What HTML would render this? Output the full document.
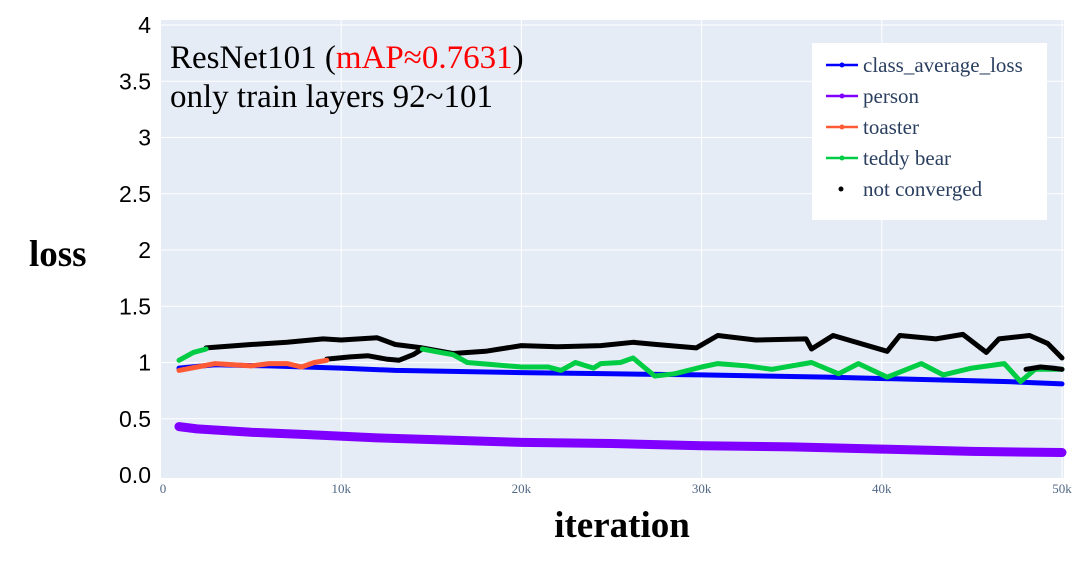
<!DOCTYPE html>
<html><head><meta charset="utf-8">
<style>
html,body{margin:0;padding:0;background:#fff;}
svg{display:block;}
</style></head>
<body>
<svg id="chart" width="1078" height="570" viewBox="0 0 1078 570" xmlns="http://www.w3.org/2000/svg">
<rect x="161" y="20" width="903" height="458" fill="#e5ecf6"/>
<g id="grid"></g>
<g id="yticks" font-family="'Liberation Sans',sans-serif" font-size="23" fill="#000" text-anchor="end"></g>
<g id="xticks" font-family="'Liberation Serif',serif" font-size="13" fill="#506784" text-anchor="middle"></g>
<g id="series" fill="none" stroke-linejoin="round" stroke-linecap="round"></g>
<text x="170" y="68" font-family="'Liberation Serif',serif" font-size="33" fill="#000">ResNet101 (<tspan fill="#ff0000">mAP≈0.7631</tspan>)</text>
<text x="170" y="107" font-family="'Liberation Serif',serif" font-size="33" fill="#000">only train layers 92~101</text>
<text x="29" y="266" font-family="'Liberation Serif',serif" font-size="37" font-weight="bold" fill="#000">loss</text>
<text x="622" y="537" text-anchor="middle" font-family="'Liberation Serif',serif" font-size="37" font-weight="bold" fill="#000">iteration</text>
<g>
<rect x="812" y="43" width="235" height="177" fill="#fff"/>
<g id="legend" font-family="'Liberation Serif',serif" font-size="21" fill="#2a3f5f"></g>
</g>
</svg>
<script>
const xTicks=[0,10000,20000,30000,40000,50000];
const xTickLabels=["0","10k","20k","30k","40k","50k"];
const yTicks=[0,0.5,1,1.5,2,2.5,3,3.5,4];
const yTickLabels=["0.0","0.5","1","1.5","2","2.5","3","3.5","4"];
const avgX=[1000,3000,6000,10000,13000,20000,25000,30000,37000,42000,47000,50000];
const avgY=[0.95,0.98,0.97,0.95,0.93,0.91,0.90,0.89,0.87,0.85,0.83,0.81];
const personX=[1000,2000,5000,8000,12000,16000,20000,25000,30000,35000,40000,45000,50000];
const personY=[0.43,0.41,0.38,0.36,0.33,0.31,0.29,0.28,0.26,0.25,0.23,0.21,0.20];
const toasterX=[1000,2000,3000,4000,5000,6000,7000,7800,8500,9200];
const toasterY=[0.93,0.96,0.99,0.98,0.97,0.99,0.99,0.96,1.0,1.02];
const teddyStartX=[1000,1800,2500];
const teddyStartY=[1.02,1.09,1.12];
const teddyX=[14500,15500,16200,17000,18500,20000,21500,22200,23000,24000,24400,25500,26200,27400,28500,30000,30900,32500,33900,36100,37600,38700,40300,42200,43400,45000,46800,47700,48500,50000];
const teddyY=[1.12,1.09,1.07,1.0,0.98,0.96,0.96,0.93,1.0,0.95,0.99,1.0,1.04,0.88,0.9,0.96,0.99,0.97,0.94,1.0,0.9,0.99,0.87,0.99,0.89,0.95,0.99,0.83,0.94,0.94];
const ncUpperX=[2500,5000,7000,9000,10000,12000,13000,14500,16200,18000,20000,22000,24400,26200,27500,29700,30900,33000,35800,36100,37300,40300,41000,43000,44500,45800,46500,48200,49200,50000];
const ncUpperY=[1.13,1.16,1.18,1.21,1.2,1.22,1.16,1.13,1.08,1.1,1.15,1.14,1.15,1.18,1.16,1.13,1.24,1.2,1.21,1.12,1.24,1.1,1.24,1.21,1.25,1.09,1.21,1.24,1.17,1.04];
const ncLowerX=[9200,10500,11500,12500,13200,14000,14500];
const ncLowerY=[1.03,1.05,1.06,1.03,1.02,1.07,1.12];
const ncTailX=[48000,48800,49500,50000];
const ncTailY=[0.94,0.96,0.95,0.94];

const X0=161,XS=(1062-161)/50000,Y0=475,YS=112.5;
const sx=v=>X0+v*XS, sy=v=>Y0-v*YS;
const NS="http://www.w3.org/2000/svg";
function mk(tag,attrs,parent){const e=document.createElementNS(NS,tag);for(const k in attrs)e.setAttribute(k,attrs[k]);parent.appendChild(e);return e;}
const grid=document.getElementById('grid');
yTicks.forEach((t,i)=>{
  if(t>0){const l=mk('line',{x1:161,x2:1064,y1:sy(t),y2:sy(t),stroke:'#fff','stroke-width':1},grid);
  
  }
  const tx=mk('text',{x:151,y:sy(t)+8},document.getElementById('yticks'));
  tx.textContent=yTickLabels[i];
  
  
});
xTicks.forEach((t,i)=>{
  if(t>0){const l=mk('line',{x1:sx(t),x2:sx(t),y1:20,y2:478,stroke:'#fff','stroke-width':1},grid);
  
  }
  const tx=mk('text',{x:sx(t)+(t===0?2:0),y:493},document.getElementById('xticks'));
  tx.textContent=xTickLabels[i];
  
  
});
const ser=document.getElementById('series');
function line(xs,ys,color,w,name){
  const d=xs.map((x,i)=>(i?'L':'M')+sx(x).toFixed(1)+','+sy(ys[i]).toFixed(1)).join(' ');
  const p=mk('path',{d:d,stroke:color,'stroke-width':w},ser);
  
  
}
line(personX,personY,'#7f00ff',9,'person-line');
line(avgX,avgY,'#0000ff',5,'class-average-loss-line');
line(ncUpperX,ncUpperY,'#000',5,'not-converged-upper-line');
line(ncLowerX,ncLowerY,'#000',5,'not-converged-lower-line');
line(toasterX,toasterY,'#ff5a36',5,'toaster-line');
line(teddyStartX,teddyStartY,'#00cc44',5,'teddy-bear-start-line');
line(teddyX,teddyY,'#00cc44',5,'teddy-bear-line');
line(ncTailX,ncTailY,'#000',5,'not-converged-tail-line');

const lg=document.getElementById('legend');
const items=[["class_average_loss","#0000ff"],["person","#7f00ff"],["toaster","#ff5a36"],["teddy bear","#00cc44"],["not converged",null]];
items.forEach((it,i)=>{
  const y=65+i*31;
  if(it[1]){
    const l=mk('line',{x1:826,x2:858,y1:y,y2:y,stroke:it[1],'stroke-width':2.5},lg);
    
    
    mk('circle',{cx:842,cy:y,r:2.5,fill:it[1]},lg);
  } else {
    mk('circle',{cx:841,cy:y,r:2.5,fill:'#000'},lg);
  }
  const t=mk('text',{x:863,y:y+7},lg);
  t.textContent=it[0];
  
  
});
</script>
</body></html>
